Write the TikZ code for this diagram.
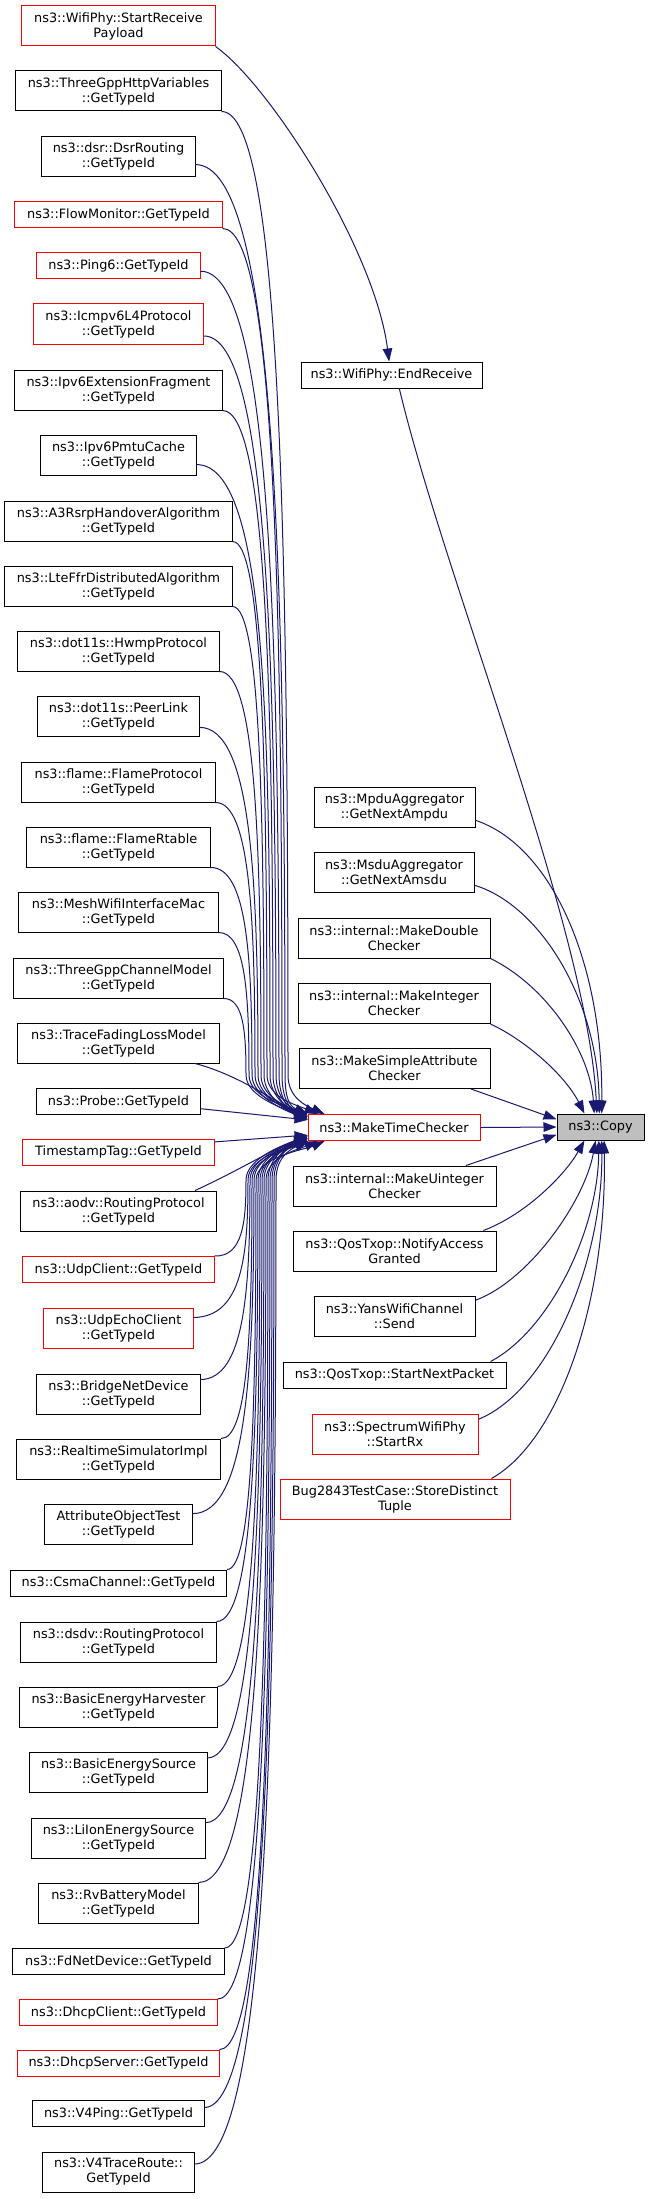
\documentclass[tikz,border=0pt]{standalone}
\usepackage{fontspec}
\setmainfont{DejaVu Sans}
\usetikzlibrary{arrows.meta,calc}
\definecolor{edgeblue}{RGB}{25,25,112}
\definecolor{copyfill}{RGB}{191,191,191}
\tikzset{
  box/.style={draw=black, line width=1bp, fill=white, inner sep=0pt, align=center,
    font={\fontsize{12.85bp}{15bp}\selectfont}},
  rbox/.style={box, draw=red},
  callarrow/.style={draw=edgeblue, line width=1bp, -{Triangle[length=13bp,width=9.5bp]}},
}
\begin{document}
\begin{tikzpicture}[x=1bp,y=-1bp]
\useasboundingbox[fill=white] (0,0) rectangle (649,2199);
% left column
\node[rbox, minimum width=193bp, minimum height=40bp] (srp) at (118.5,26) {ns3::WifiPhy::StartReceive\\Payload};
\node[box, minimum width=205bp, minimum height=40bp] (tgh) at (118.5,91) {ns3::ThreeGppHttpVariables\\::GetTypeId};
\node[box, minimum width=153bp, minimum height=40bp] (dsr) at (118.5,156.5) {ns3::dsr::DsrRouting\\::GetTypeId};
\node[rbox, minimum width=207bp, minimum height=26bp] (flow) at (118.5,215) {ns3::FlowMonitor::GetTypeId};
\node[rbox, minimum width=163bp, minimum height=26bp] (ping) at (118.5,265.5) {ns3::Ping6::GetTypeId};
\node[rbox, minimum width=170bp, minimum height=40bp] (icmp) at (118.5,324) {ns3::Icmpv6L4Protocol\\::GetTypeId};
\node[box, minimum width=207bp, minimum height=40bp] (ext) at (118.5,390) {ns3::Ipv6ExtensionFragment\\::GetTypeId};
\node[box, minimum width=155bp, minimum height=40bp] (pmtu) at (118.5,455) {ns3::Ipv6PmtuCache\\::GetTypeId};
\node[box, minimum width=227bp, minimum height=40bp] (a3) at (118.5,521) {ns3::A3RsrpHandoverAlgorithm\\::GetTypeId};
\node[box, minimum width=227bp, minimum height=40bp] (lte) at (118.5,586) {ns3::LteFfrDistributedAlgorithm\\::GetTypeId};
\node[box, minimum width=201bp, minimum height=40bp] (hwmp) at (118.5,651) {ns3::dot11s::HwmpProtocol\\::GetTypeId};
\node[box, minimum width=161bp, minimum height=40bp] (peer) at (118.5,716) {ns3::dot11s::PeerLink\\::GetTypeId};
\node[box, minimum width=193bp, minimum height=40bp] (flp) at (118.5,782) {ns3::flame::FlameProtocol\\::GetTypeId};
\node[box, minimum width=183bp, minimum height=40bp] (flr) at (118.5,847) {ns3::flame::FlameRtable\\::GetTypeId};
\node[box, minimum width=199bp, minimum height=40bp] (mesh) at (118.5,912) {ns3::MeshWifiInterfaceMac\\::GetTypeId};
\node[box, minimum width=209bp, minimum height=40bp] (tgc) at (118.5,978) {ns3::ThreeGppChannelModel\\::GetTypeId};
\node[box, minimum width=201bp, minimum height=40bp] (tfl) at (118.5,1043) {ns3::TraceFadingLossModel\\::GetTypeId};
\node[box, minimum width=163bp, minimum height=26bp] (probe) at (118.5,1101.5) {ns3::Probe::GetTypeId};
\node[rbox, minimum width=191bp, minimum height=26bp] (ts) at (118.5,1152) {TimestampTag::GetTypeId};
\node[box, minimum width=196bp, minimum height=40bp] (aodv) at (118.5,1211) {ns3::aodv::RoutingProtocol\\::GetTypeId};
\node[rbox, minimum width=191bp, minimum height=26bp] (udpc) at (118.5,1269.5) {ns3::UdpClient::GetTypeId};
\node[rbox, minimum width=149bp, minimum height=40bp] (udpe) at (118.5,1328) {ns3::UdpEchoClient\\::GetTypeId};
\node[box, minimum width=163bp, minimum height=40bp] (bridge) at (118.5,1394) {ns3::BridgeNetDevice\\::GetTypeId};
\node[box, minimum width=204bp, minimum height=40bp] (rt) at (118.5,1459) {ns3::RealtimeSimulatorImpl\\::GetTypeId};
\node[box, minimum width=147bp, minimum height=40bp] (aot) at (118.5,1524) {AttributeObjectTest\\::GetTypeId};
\node[box, minimum width=216bp, minimum height=26bp] (csma) at (118.5,1583) {ns3::CsmaChannel::GetTypeId};
\node[box, minimum width=195bp, minimum height=40bp] (dsdv) at (118.5,1642) {ns3::dsdv::RoutingProtocol\\::GetTypeId};
\node[box, minimum width=197bp, minimum height=40bp] (beh) at (118.5,1707) {ns3::BasicEnergyHarvester\\::GetTypeId};
\node[box, minimum width=177bp, minimum height=40bp] (bes) at (118.5,1772) {ns3::BasicEnergySource\\::GetTypeId};
\node[box, minimum width=173bp, minimum height=40bp] (lion) at (118.5,1838) {ns3::LiIonEnergySource\\::GetTypeId};
\node[box, minimum width=159bp, minimum height=40bp] (rv) at (118.5,1903) {ns3::RvBatteryModel\\::GetTypeId};
\node[box, minimum width=211bp, minimum height=26bp] (fd) at (118.5,1961.5) {ns3::FdNetDevice::GetTypeId};
\node[rbox, minimum width=197bp, minimum height=26bp] (dhcpc) at (118.5,2012.5) {ns3::DhcpClient::GetTypeId};
\node[rbox, minimum width=201bp, minimum height=26bp] (dhcps) at (118.5,2063) {ns3::DhcpServer::GetTypeId};
\node[box, minimum width=171bp, minimum height=26bp] (v4p) at (118.5,2113.5) {ns3::V4Ping::GetTypeId};
\node[box, minimum width=151bp, minimum height=40bp] (v4t) at (118.5,2172) {ns3::V4TraceRoute::\\GetTypeId};
% middle column
\node[box, minimum width=181bp, minimum height=26bp] (er) at (391.5,375) {ns3::WifiPhy::EndReceive};
\node[box, minimum width=161bp, minimum height=40bp] (mpdu) at (394.5,807.5) {ns3::MpduAggregator\\::GetNextAmpdu};
\node[box, minimum width=160bp, minimum height=40bp] (msdu) at (394,872.5) {ns3::MsduAggregator\\::GetNextAmsdu};
\node[box, minimum width=192bp, minimum height=40bp] (mdc) at (394,938) {ns3::internal::MakeDouble\\Checker};
\node[box, minimum width=192bp, minimum height=40bp] (mic) at (394,1003.5) {ns3::internal::MakeInteger\\Checker};
\node[box, minimum width=191bp, minimum height=40bp] (msa) at (394.5,1068.5) {ns3::MakeSimpleAttribute\\Checker};
\node[rbox, minimum width=172bp, minimum height=26bp] (mtc) at (394,1127.5) {ns3::MakeTimeChecker};
\node[box, minimum width=203bp, minimum height=40bp] (muc) at (394.5,1186) {ns3::internal::MakeUinteger\\Checker};
\node[box, minimum width=203bp, minimum height=40bp] (qna) at (394.5,1251) {ns3::QosTxop::NotifyAccess\\Granted};
\node[box, minimum width=161bp, minimum height=40bp] (yans) at (394.5,1316) {ns3::YansWifiChannel\\::Send};
\node[box, minimum width=223bp, minimum height=26bp] (snp) at (394.5,1375) {ns3::QosTxop::StartNextPacket};
\node[rbox, minimum width=166bp, minimum height=40bp] (swp) at (395,1434) {ns3::SpectrumWifiPhy\\::StartRx};
\node[rbox, minimum width=230bp, minimum height=40bp] (bug) at (395,1499) {Bug2843TestCase::StoreDistinct\\Tuple};
% right
\node[box, fill=copyfill, minimum width=87bp, minimum height=26bp] (copy) at (600.5,1127) {ns3::Copy};

% upper callers of MakeTimeChecker
\draw[callarrow] (tgh.south east) .. controls (281.3,111) and (288,545) .. (288,1075) .. controls (288,1098) and ($(mtc.169)+(-18,-8)$) .. (mtc.169);
\draw[callarrow] (dsr.-6) .. controls (276,164.5) and (285,574) .. (285,1075) .. controls (285,1098) and ($(mtc.north west)+(-18,-8)$) .. (mtc.north west);
\draw[callarrow] (flow.south east) .. controls (276,228) and (282,609) .. (282,1075) .. controls (282,1098) and ($(mtc.173)+(-18,-8)$) .. (mtc.173);
\draw[callarrow] (ping.-4) .. controls (271,271) and (279,633) .. (279,1075) .. controls (279,1098) and ($(mtc.175)+(-18,-8)$) .. (mtc.175);
\draw[callarrow] (icmp.-8) .. controls (268.7,336) and (276,669) .. (276,1075) .. controls (276,1098) and ($(mtc.172)+(-18,-8)$) .. (mtc.172);
\draw[callarrow] (ext.south east) .. controls (268,410) and (273,709) .. (273,1075) .. controls (273,1098) and ($(mtc.174)+(-18,-8)$) .. (mtc.174);
\draw[callarrow] (pmtu.-7) .. controls (268,464.5) and (270,739) .. (270,1075) .. controls (270,1098) and ($(mtc.173)+(-18,-8)$) .. (mtc.173);
\draw[callarrow] (a3.south east) .. controls (263.5,541) and (267,781) .. (267,1075) .. controls (267,1098) and ($(mtc.170)+(-18,-8)$) .. (mtc.170);
\draw[callarrow] (lte.south east) .. controls (260.8,606) and (264,817) .. (264,1075) .. controls (264,1098) and ($(mtc.175)+(-18,-8)$) .. (mtc.175);
\draw[callarrow] (hwmp.south east) .. controls (256.8,671) and (261,853) .. (261,1075) .. controls (261,1098) and ($(mtc.172)+(-18,-8)$) .. (mtc.172);
\draw[callarrow] (peer.-8) .. controls (252.1,727) and (258,884) .. (258,1075) .. controls (258,1098) and ($(mtc.174)+(-18,-8)$) .. (mtc.174);
\draw[callarrow] (flp.south east) .. controls (251,802) and (255,925) .. (255,1075) .. controls (255,1098) and ($(mtc.173)+(-18,-8)$) .. (mtc.173);
\draw[callarrow] (flr.south east) .. controls (247.8,867) and (252,961) .. (252,1075) .. controls (252,1098) and ($(mtc.175)+(-18,-8)$) .. (mtc.175);
\draw[callarrow] (mesh.south east) .. controls (245.9,932) and (249,996) .. (249,1075) .. controls (249,1098) and ($(mtc.172)+(-18,-8)$) .. (mtc.172);
\draw[callarrow] (tgc.south east) .. controls (243.7,998) and (246,1033) .. (246,1075) .. controls (246,1098) and ($(mtc.174)+(-18,-8)$) .. (mtc.174);
% near callers
\draw[callarrow] (tfl.-15) .. controls (240,1075) and (280,1105) .. (mtc.173);
\draw[callarrow] (probe.-5) -- (mtc.175);
\draw[callarrow] (ts.6) -- (mtc.-175);
\draw[callarrow] (aodv.15) .. controls (240,1170) and (280,1145) .. (mtc.-173);
% lower callers of MakeTimeChecker
\draw[callarrow] (udpc.north east) .. controls (242.8,1257) and (246,1222) .. (246,1180) .. controls (246,1157) and ($(mtc.-175)+(-18,8)$) .. (mtc.-175);
\draw[callarrow] (udpe.8) .. controls (242.5,1317) and (248,1255) .. (248,1180) .. controls (248,1157) and ($(mtc.-172)+(-18,8)$) .. (mtc.-172);
\draw[callarrow] (bridge.10) .. controls (245,1379) and (250,1289) .. (250,1180) .. controls (250,1157) and ($(mtc.-174)+(-18,8)$) .. (mtc.-174);
\draw[callarrow] (rt.north east) .. controls (248.8,1439) and (252,1322) .. (252,1180) .. controls (252,1157) and ($(mtc.south west)+(-18,8)$) .. (mtc.south west);
\draw[callarrow] (aot.8) .. controls (247.8,1514) and (254,1364) .. (254,1180) .. controls (254,1157) and ($(mtc.-173)+(-18,8)$) .. (mtc.-173);
\draw[callarrow] (csma.north east) .. controls (253,1570) and (256,1394.5) .. (256,1180) .. controls (256,1157) and ($(mtc.-169)+(-18,8)$) .. (mtc.-169);
\draw[callarrow] (dsdv.north east) .. controls (253.8,1622) and (258,1423) .. (258,1180) .. controls (258,1157) and ($(mtc.-175)+(-18,8)$) .. (mtc.-175);
\draw[callarrow] (beh.north east) .. controls (255.7,1687) and (260,1459) .. (260,1180) .. controls (260,1157) and ($(mtc.-172)+(-18,8)$) .. (mtc.-172);
\draw[callarrow] (bes.9) .. controls (256.5,1758) and (262,1498) .. (262,1180) .. controls (262,1157) and ($(mtc.-174)+(-18,8)$) .. (mtc.-174);
\draw[callarrow] (lion.10) .. controls (258.1,1823) and (264,1534) .. (264,1180) .. controls (264,1157) and ($(mtc.-173)+(-18,8)$) .. (mtc.-173);
\draw[callarrow] (rv.north east) .. controls (259.2,1883) and (266,1567) .. (266,1180) .. controls (266,1157) and ($(mtc.-170)+(-18,8)$) .. (mtc.-170);
\draw[callarrow] (fd.north east) .. controls (263.6,1949) and (268,1603) .. (268,1180) .. controls (268,1157) and ($(mtc.-175)+(-18,8)$) .. (mtc.-175);
\draw[callarrow] (dhcpc.north east) .. controls (264.7,2000) and (270,1631) .. (270,1180) .. controls (270,1157) and ($(mtc.-172)+(-18,8)$) .. (mtc.-172);
\draw[callarrow] (dhcps.north east) .. controls (266.7,2050) and (272,1658.5) .. (272,1180) .. controls (272,1157) and ($(mtc.-174)+(-18,8)$) .. (mtc.-174);
\draw[callarrow] (v4p.4) .. controls (267,2107) and (274,1690) .. (274,1180) .. controls (274,1157) and ($(mtc.-173)+(-18,8)$) .. (mtc.-173);
\draw[callarrow] (v4t.6) .. controls (267.8,2164) and (276,1721) .. (276,1180) .. controls (276,1157) and ($(mtc.-171)+(-18,8)$) .. (mtc.-171);
% StartReceivePayload -> EndReceive
\draw[callarrow] (srp.south east) .. controls (270,85) and (375,250) .. (er.100);
% callers of Copy
\draw[callarrow] (er.-60) .. controls (445,580) and (588,930) .. (copy.105);
\draw[callarrow] (mpdu.-9) .. controls (550,845) and (603,960) .. (copy.85);
\draw[callarrow] (msdu.-9) .. controls (540,905) and (598,1000) .. (copy.95);
\draw[callarrow] (mdc.south east) .. controls (545,985) and (590,1050) .. (copy.115);
\draw[callarrow] (mic.south east) .. controls (525,1040) and (565,1075) .. (copy.140);
\draw[callarrow] (msa.-15) -- (copy.170);
\draw[callarrow] (mtc.east) -- (copy.west);
\draw[callarrow] (muc.16) -- (copy.-170);
\draw[callarrow] (qna.13) .. controls (525,1215) and (565,1175) .. (copy.-140);
\draw[callarrow] (yans.11) .. controls (530,1280) and (585,1200) .. (copy.-110);
\draw[callarrow] (snp.8) .. controls (550,1330) and (598,1230) .. (copy.-97);
\draw[callarrow] (swp.10) .. controls (550,1390) and (603,1260) .. (copy.-85);
\draw[callarrow] (bug.12) .. controls (560,1440) and (607,1300) .. (copy.-75);
\end{tikzpicture}
\end{document}
